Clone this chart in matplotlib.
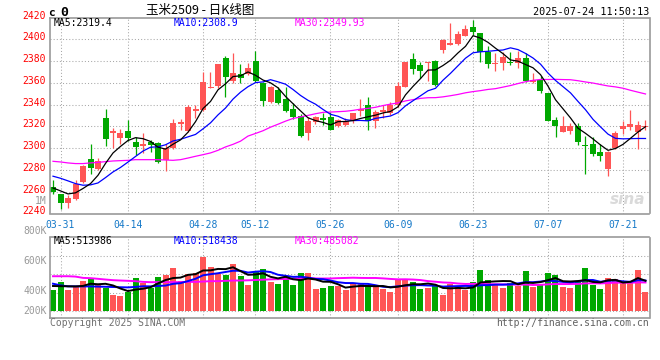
import numpy as np
import pandas as pd
import matplotlib
matplotlib.use("Agg")
import matplotlib.pyplot as plt
import matplotlib.transforms as mtransforms

# ---- data (玉米2509 daily) ----
holidays = ["2025-04-04", "2025-05-01", "2025-05-02", "2025-05-05", "2025-06-02"]
dates = pd.bdate_range("2025-03-28", "2025-07-24", freq="C", holidays=holidays)

opens = [2264.5, 2257.7, 2249.8, 2253.5, 2269.1, 2289.8, 2280.7, 2327.5, 2314.0, 2309.7,
         2315.5, 2305.7, 2301.8, 2305.7, 2304.8, 2288.9, 2300.6, 2322.0, 2315.8, 2334.5,
         2335.4, 2355.7, 2357.5, 2383.1, 2361.5, 2368.1, 2368.7, 2380.0, 2359.6, 2342.3,
         2353.5, 2345.3, 2335.9, 2329.2, 2314.0, 2323.7, 2327.6, 2328.6, 2320.6, 2321.0,
         2324.6, 2334.6, 2339.8, 2325.5, 2333.4, 2332.8, 2339.8, 2356.6, 2382.0, 2376.5,
         2378.0, 2380.2, 2390.8, 2395.4, 2395.7, 2403.4, 2411.6, 2406.4, 2388.7, 2377.1,
         2378.0, 2379.5, 2378.0, 2383.2, 2361.2, 2362.8, 2350.5, 2326.1, 2314.5, 2316.3,
         2320.6, 2303.2, 2303.8, 2296.2, 2280.9, 2300.2, 2317.6, 2319.4, 2315.4, 2319.4]
highs = [2271.2, 2258.0, 2256.8, 2270.6, 2284.3, 2303.6, 2291.1, 2336.3, 2318.9, 2318.0,
         2325.6, 2310.3, 2314.3, 2307.9, 2305.7, 2304.2, 2326.5, 2327.2, 2339.4, 2340.0,
         2370.2, 2370.2, 2377.5, 2385.0, 2387.7, 2377.9, 2378.5, 2389.4, 2361.1, 2357.2,
         2356.6, 2356.6, 2341.3, 2331.6, 2328.6, 2329.8, 2332.0, 2333.7, 2326.7, 2327.6,
         2332.8, 2345.0, 2347.4, 2335.3, 2339.8, 2342.9, 2361.1, 2379.7, 2387.8, 2379.5,
         2379.5, 2381.0, 2400.0, 2415.3, 2407.9, 2413.1, 2417.5, 2406.4, 2393.9, 2387.2,
         2388.7, 2388.7, 2389.6, 2387.8, 2369.5, 2366.4, 2350.5, 2328.6, 2329.2, 2323.0,
         2323.0, 2310.9, 2310.2, 2304.1, 2297.7, 2316.3, 2324.6, 2335.3, 2324.6, 2326.0]
lows = [2258.3, 2243.7, 2244.6, 2252.8, 2268.0, 2276.7, 2279.8, 2301.8, 2300.6, 2304.2,
        2306.7, 2293.5, 2295.7, 2296.6, 2286.5, 2279.1, 2299.6, 2316.5, 2314.9, 2328.0,
        2334.0, 2355.0, 2355.4, 2346.8, 2360.2, 2360.2, 2367.2, 2361.1, 2339.2, 2341.3,
        2340.7, 2333.7, 2327.3, 2310.3, 2307.9, 2322.5, 2321.5, 2316.4, 2319.4, 2320.0,
        2323.0, 2329.2, 2316.4, 2318.5, 2327.6, 2330.7, 2338.3, 2356.0, 2368.2, 2364.2,
        2362.1, 2357.3, 2387.8, 2394.8, 2394.8, 2403.0, 2404.0, 2379.5, 2374.0, 2371.3,
        2371.9, 2376.5, 2373.4, 2361.2, 2359.7, 2351.2, 2324.6, 2309.9, 2314.5, 2313.3,
        2303.2, 2276.4, 2292.5, 2288.0, 2274.2, 2299.3, 2313.3, 2317.0, 2299.3, 2317.0]
closes = [2259.9, 2249.8, 2254.4, 2267.5, 2283.4, 2282.2, 2288.3, 2308.8, 2315.5, 2313.7,
          2309.4, 2301.2, 2304.2, 2302.7, 2287.4, 2300.6, 2323.5, 2324.1, 2337.9, 2336.0,
          2360.9, 2356.3, 2377.5, 2365.5, 2369.5, 2364.2, 2374.2, 2362.0, 2343.8, 2356.6,
          2341.3, 2334.6, 2328.6, 2310.9, 2324.6, 2328.6, 2326.1, 2317.0, 2326.1, 2325.2,
          2332.8, 2335.9, 2324.6, 2333.7, 2335.3, 2339.8, 2357.2, 2379.4, 2372.8, 2371.0,
          2379.0, 2358.2, 2399.4, 2396.9, 2404.9, 2409.2, 2407.0, 2388.7, 2377.1, 2378.0,
          2384.1, 2378.0, 2383.2, 2361.8, 2362.8, 2352.7, 2325.2, 2320.6, 2320.0, 2320.9,
          2305.4, 2301.7, 2294.7, 2292.5, 2296.2, 2313.9, 2320.6, 2322.5, 2321.5, 2320.6]
volumes = [357000, 487000, 357000, 414000, 516000, 544000, 442000, 397000, 272000, 255000,
           329000, 567000, 470000, 397000, 584000, 612000, 737000, 510000, 629000, 640000,
           924000, 754000, 629000, 612000, 799000, 595000, 442000, 657000, 714000, 499000,
           459000, 584000, 442000, 640000, 640000, 374000, 397000, 431000, 431000, 357000,
           453000, 459000, 425000, 414000, 374000, 329000, 527000, 544000, 499000, 374000,
           392000, 426000, 267000, 465000, 409000, 363000, 494000, 692000, 522000, 448000,
           392000, 482000, 426000, 675000, 409000, 465000, 647000, 607000, 403000, 386000,
           505000, 725000, 450000, 372000, 562000, 539000, 495000, 515000, 690000, 331000]

# moving-average values before a full window exists
ma5_head = [2263.5, 2260.8, 2258.0, 2259.0]
ma10_head = [2274.3, 2272.4, 2270.0, 2267.5, 2266.0, 2266.3, 2268.1, 2273.0, 2278.2]
ma30_head = [2288.0, 2287.4, 2286.5, 2285.9, 2285.9, 2286.5, 2287.0, 2287.7, 2288.3, 2288.6,
             2288.9, 2289.5, 2289.5, 2289.5, 2289.5, 2289.2, 2288.9, 2289.5, 2291.0, 2292.6,
             2294.1, 2295.7, 2298.1, 2301.2, 2303.6, 2306.5, 2311.2, 2313.6, 2316.1]
vma5_head = [425000, 422000, 420000, 418000]
vma10_head = [464000, 436000, 419000, 419000, 418000, 418000, 415000, 412000, 408000]
vma30_head = [591000, 591000, 591000, 585000, 563000, 558000, 547000, 535000, 524000, 518000,
              513000, 507000, 495000, 490000, 490000, 490000, 490000, 490000, 495000, 495000,
              501000, 507000, 507000, 513000, 518000, 518000, 522000, 527000, 532000]

date_labels = ["03-31", "04-14", "04-28", "05-12", "05-26", "06-09", "06-23", "07-07", "07-21"]
price_ticks = [2240, 2260, 2280, 2300, 2320, 2340, 2360, 2380, 2400, 2420]
vol_labels = ["1M", "800K", "600K", "400K", "200K"]

title = "玉米2509 - 日K线图"
stamp = "2025-07-24 11:50:13"
price_ma_text = ["MA5:2319.4", "MA10:2308.9", "MA30:2349.93"]
vol_ma_text = ["MA5:513986", "MA10:518438", "MA30:485082"]


def moving(values, n, head):
    out = pd.Series(values, dtype=float).rolling(n).mean().to_numpy()
    out[:n - 1] = head
    return out


W, H = 660, 360
RED, GREEN = "#FF5555", "#00A800"
GRID = "#A8A8A8"
BORDER = "#9A9A9A"
MONO = "DejaVu Sans Mono"


def px(x, y):
    return x / W, 1 - y / H


o, h, l, c = map(np.array, (opens, highs, lows, closes))
v = np.array(volumes, dtype=float)
n = len(c)
x = np.arange(n)
cols = np.where(c >= o, RED, GREEN)

fig = plt.figure(figsize=(W / 100, H / 100), dpi=100)
fig.patch.set_facecolor("white")

# price panel: 2420 at y=17.75px, 2240 at y=213.5px, x 50..649.5px
ax = fig.add_axes([50 / W, 1 - 213.5 / H, 599.5 / W, 195.75 / H])
axv = fig.add_axes([50 / W, 1 - 317.7 / H, 599.5 / W, 80.2 / H])

xlim = (-3 / 7.5, 596.5 / 7.5)
for a in (ax, axv):
    a.set_xlim(*xlim)
    a.set_xticks([])
    a.set_yticks([])
    for s in a.spines.values():
        s.set_color(BORDER)
        s.set_linewidth(1.2)

ax.set_ylim(2240, 2420)
axv.set_ylim(-113900, 1249500)

label_idx = [list(dates.strftime("%m-%d")).index(d) for d in date_labels]

grid_kw = dict(color=GRID, lw=0.75, ls=(0, (1, 2)), zorder=0)
for p in price_ticks[1:-1]:
    ax.axhline(p, **grid_kw)
for q in range(4):
    axv.axhline(1249500 * q / 4, **grid_kw)
for i in label_idx:
    ax.axvline(i, **grid_kw)
    axv.axvline(i, **grid_kw)

# candles
ax.vlines(x, l, h, colors=cols, lw=0.9, zorder=2)
body_lo = np.minimum(o, c)
body_h = np.maximum(np.abs(c - o), 0.9)
ax.bar(x, body_h, bottom=body_lo, width=0.8, color=cols, lw=0, zorder=2)

ma5 = moving(closes, 5, ma5_head)
ma10 = moving(closes, 10, ma10_head)
ma30 = moving(closes, 30, ma30_head)
ax.plot(x, ma30, color="#FF00FF", lw=0.9, zorder=3)
ax.plot(x, ma10, color="#0000FF", lw=0.9, zorder=3)
ax.plot(x, ma5, color="black", lw=0.9, zorder=3)

# volume
axv.bar(x, v, width=0.8, color=cols, lw=0, zorder=2)
vma5 = moving(volumes, 5, vma5_head)
vma10 = moving(volumes, 10, vma10_head)
vma30 = moving(volumes, 30, vma30_head)
axv.plot(x, vma30, color="#FF00FF", lw=1.4, zorder=3)
axv.plot(x, vma10, color="#0000FF", lw=1.4, zorder=3)
axv.plot(x, vma5, color="black", lw=1.4, zorder=3)

# axis labels
lab_kw = dict(family=MONO, fontsize=7)
ytrans = mtransforms.blended_transform_factory(ax.transAxes, ax.transData) + \
    mtransforms.ScaledTranslation(-0.04, 0.02, fig.dpi_scale_trans)
for p in price_ticks:
    ax.text(0, p, str(p), transform=ytrans, ha="right", va="center", color="#FF0000", **lab_kw)

xtrans = mtransforms.blended_transform_factory(ax.transData, ax.transAxes) + \
    mtransforms.ScaledTranslation(0, -0.115, fig.dpi_scale_trans)
for i, d in zip(label_idx, date_labels):
    ax.text(i, 0, d, transform=xtrans, ha="center", va="center", color="#1478C8", **lab_kw)

for lab, yy in zip(vol_labels, [201, 231, 261, 291, 311]):
    fig.text(*px(46.5, yy), lab, ha="right", va="center", color="#999999", **lab_kw)

# header texts
for t, xx, col in zip(price_ma_text, [54, 174, 295], ["black", "#0000FF", "#FF00FF"]):
    fig.text(*px(xx, 23.5), t, ha="left", va="center", color=col, **lab_kw)
for t, xx, col in zip(vol_ma_text, [54, 174, 295], ["black", "#0000FF", "#FF00FF"]):
    fig.text(*px(xx, 241.5), t, ha="left", va="center", color=col, **lab_kw)

fig.text(*px(200, 10.5), title, ha="center", va="center", fontsize=9,
         family=["Noto Sans CJK SC", "DejaVu Sans"], color="black")
fig.text(*px(649, 12.3), stamp, ha="right", va="center", color="black", family=MONO, fontsize=7.3)
fig.text(*px(52, 13), "c", ha="center", va="center", color="black", family=MONO,
         fontsize=8, fontweight="bold")
fig.text(*px(64.5, 12), "0", ha="center", va="center", color="black", family=MONO,
         fontsize=9.5, fontweight="bold")
fig.text(*px(628, 199), "sina", ha="center", va="center", color="#DADADA",
         fontsize=11, fontweight="bold", style="italic")

fig.text(*px(50, 323.5), "Copyright 2025 SINA.COM", ha="left", va="center",
         color="#707070", **lab_kw)
fig.text(*px(648.5, 323.5), "http://finance.sina.com.cn", ha="right", va="center",
         color="#606060", **lab_kw)

fig.savefig("out.png", dpi=100, facecolor="white")
